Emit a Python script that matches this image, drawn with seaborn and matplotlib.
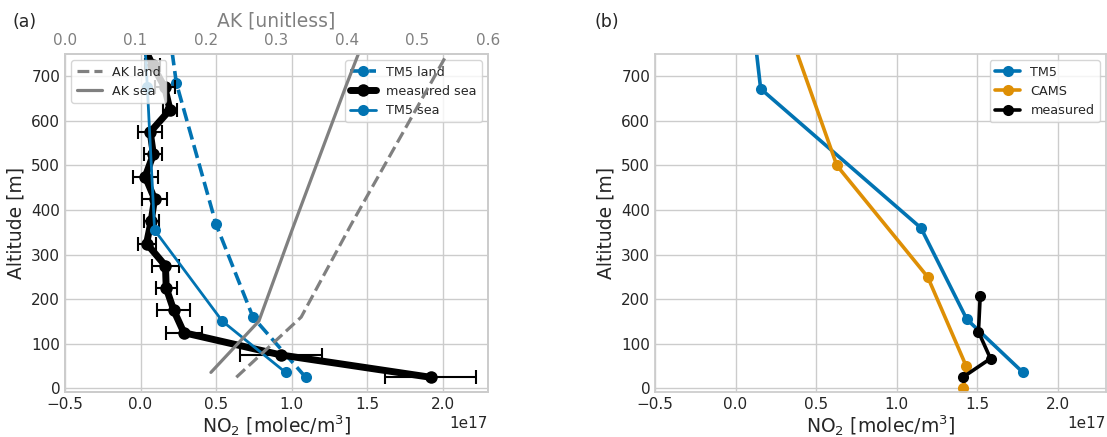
import numpy as np
import pandas as pd
import matplotlib
matplotlib.use("Agg")
import matplotlib.pyplot as plt
import seaborn as sns

# NO2 concentrations in units of 1e17 molec/m^3, altitudes in m
NO2_SCALE = 1e17

# (a) sea / land profiles
tm5_land_alt = [25, 160, 368, 685, 1000]
tm5_land_no2 = [1.093, 0.744, 0.50, 0.237, 0.11]
tm5_sea_alt = [36, 151, 355, 676, 950]
tm5_sea_no2 = [0.96, 0.541, 0.093, 0.045, 0.0]
meas_sea_alt = [25, 75, 125, 175, 225, 275, 325, 375, 425, 475, 525, 575, 625, 675, 725, 775]
meas_sea_no2 = [1.92, 0.93, 0.287, 0.22, 0.17, 0.165, 0.04, 0.07, 0.093, 0.031,
                0.085, 0.064, 0.195, 0.16, 0.08, 0.01]
meas_sea_err = [0.30, 0.27, 0.12, 0.11, 0.07, 0.09, 0.06, 0.05, 0.085, 0.083,
                0.06, 0.08, 0.047, 0.067, 0.05, 0.05]
ak_land = [0.243, 0.335, 0.406, 0.519, 0.63]
ak_sea = [0.207, 0.275, 0.322, 0.398, 0.465]

# (b) model vs measured profile
tm5_alt = [36, 155, 360, 672, 1100]
tm5_no2 = [1.784, 1.436, 1.151, 0.156, 0.02]
cams_alt = [0, 50, 250, 500, 1000]
cams_no2 = [1.415, 1.432, 1.193, 0.629, 0.139]
meas_alt = [26, 67, 127, 207]
meas_no2 = [1.415, 1.583, 1.508, 1.519]

sns.set_theme(style="whitegrid", palette="colorblind")
plt.rcParams["font.family"] = ["DejaVu Sans"]

pal = sns.color_palette("colorblind")
BLUE, ORANGE = pal[0], pal[1]
GREY = "#808080"

TICK_FS = 11
LABEL_FS = 13.5
LEG_FS = 9.2


def profile(ax, alt, no2, color, lw, ls="-", ms=8, label=None, scale=NO2_SCALE):
    df = pd.DataFrame({"alt": alt, "val": np.asarray(no2) * scale})
    sns.lineplot(data=df, x="val", y="alt", ax=ax, estimator=None, sort=False,
                 orient="y", color=color, lw=lw, ls=ls, marker="o", ms=ms,
                 markeredgecolor=color, markeredgewidth=0, label=label)


def style_axes(ax):
    ax.set_xlim(-0.5 * NO2_SCALE, 2.3 * NO2_SCALE)
    ax.set_ylim(-8, 750)
    ax.set_xlabel("NO$_2$ [molec/m$^3$]", fontsize=LABEL_FS, labelpad=1)
    ax.set_ylabel("Altitude [m]", fontsize=LABEL_FS, labelpad=4)
    ax.tick_params(labelsize=TICK_FS, length=0, pad=3.5)
    ax.xaxis.get_offset_text().set_fontsize(TICK_FS)
    ax.legend(loc="upper right", fontsize=LEG_FS, framealpha=0.8,
              handlelength=2.0)


fig = plt.figure(figsize=(11.07, 4.37), dpi=100)
ax1 = fig.add_axes([65 / 1107, 1 - 392 / 437, 423 / 1107, 338 / 437])
ax3 = fig.add_axes([655 / 1107, 1 - 392 / 437, 451 / 1107, 338 / 437])

# ---------- panel (a) ----------
profile(ax1, tm5_land_alt, tm5_land_no2, BLUE, 2.6, ls="--", label="TM5 land")
ax1.errorbar(np.asarray(meas_sea_no2) * NO2_SCALE, meas_sea_alt,
             xerr=np.asarray(meas_sea_err) * NO2_SCALE, fmt="none",
             ecolor="black", elinewidth=1.5, capsize=5, capthick=1.5)
profile(ax1, meas_sea_alt, meas_sea_no2, "black", 5, ms=9, label="measured sea")
profile(ax1, tm5_sea_alt, tm5_sea_no2, BLUE, 2.0, label="TM5 sea")
style_axes(ax1)

ax2 = ax1.twiny()
ak_land_df = pd.DataFrame({"alt": tm5_land_alt, "ak": ak_land})
ak_sea_df = pd.DataFrame({"alt": tm5_sea_alt, "ak": ak_sea})
sns.lineplot(data=ak_land_df, x="ak", y="alt", ax=ax2, estimator=None, sort=False,
             orient="y", color=GREY, lw=2.3, ls="--", label="AK land")
sns.lineplot(data=ak_sea_df, x="ak", y="alt", ax=ax2, estimator=None, sort=False,
             orient="y", color=GREY, lw=2.3, label="AK sea")
ax2.set_xlim(0, 0.6)
ax2.set_ylim(-8, 750)
ax2.grid(False)
ax2.set_xlabel("AK [unitless]", fontsize=LABEL_FS, color=GREY, labelpad=5)
ax2.tick_params(axis="x", labelsize=TICK_FS, colors=GREY, length=0, pad=4)
ax2.legend(loc="upper left", fontsize=LEG_FS, framealpha=0.8, handlelength=2.0)

# ---------- panel (b) ----------
profile(ax3, tm5_alt, tm5_no2, BLUE, 2.6, label="TM5")
profile(ax3, cams_alt, cams_no2, ORANGE, 2.6, label="CAMS")
profile(ax3, meas_alt, meas_no2, "black", 2.6, label="measured")
style_axes(ax3)

fig.text(12 / 1107, 1 - 22 / 437, "(a)", fontsize=12.5, va="center")
fig.text(594 / 1107, 1 - 22 / 437, "(b)", fontsize=12.5, va="center")

fig.savefig("out.png", dpi=100)
